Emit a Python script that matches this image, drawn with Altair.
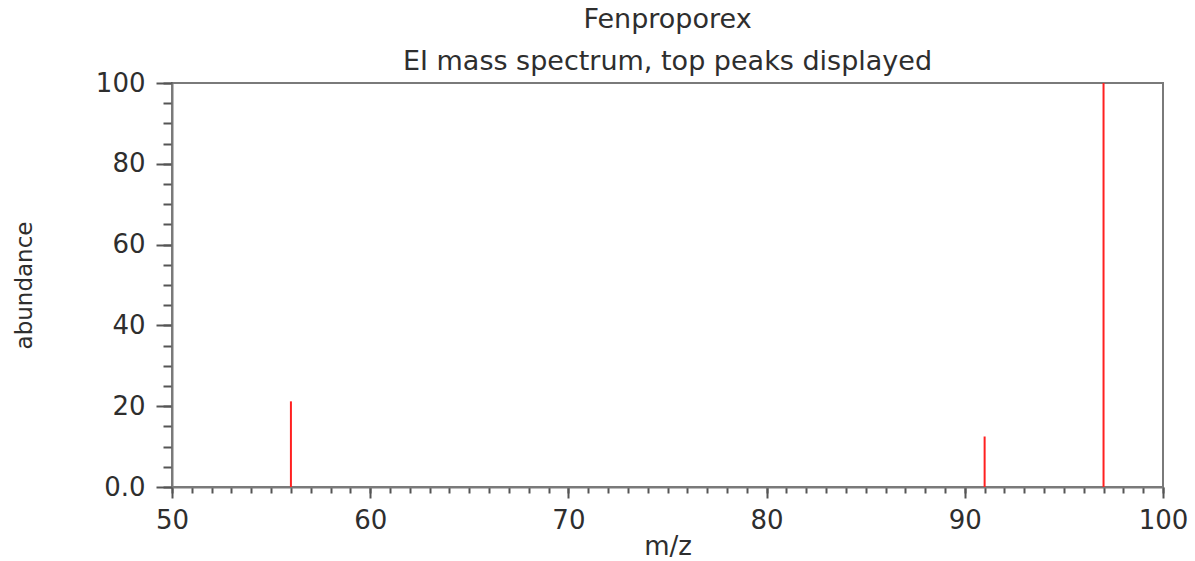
import altair as alt
import pandas as pd

# Data
mz = [56, 91, 97]
abundance = [21.2, 12.5, 100.0]

x_major = [50, 60, 70, 80, 90, 100]
x_minor = list(range(50, 101))
y_major = [0, 20, 40, 60, 80, 100]
y_minor = list(range(0, 101, 5))

df = pd.DataFrame({"mz": mz, "ab": abundance})

FONT = "DejaVu Sans"
AXIS_GRAY = "#7a7a7a"
TEXT = "#2e2e2e"

xscale = alt.Scale(domain=[50, 100], nice=False, zero=False)
yscale = alt.Scale(domain=[0, 100], nice=False)

minor = alt.Chart(df).mark_rule(opacity=0).encode(
    x=alt.X("mz:Q", scale=xscale,
            axis=alt.Axis(orient="bottom", values=x_minor, labels=False, domain=False,
                          grid=False, tickSize=6, tickWidth=2, tickColor="#555555",
                          title=None)),
    y=alt.Y("ab:Q", scale=yscale,
            axis=alt.Axis(orient="left", values=y_minor, labels=False, domain=False,
                          grid=False, tickSize=9, tickWidth=2, tickColor="#555555",
                          title=None)),
)

peaks = alt.Chart(df).mark_rule(color="#ff2020", strokeWidth=2).encode(
    x=alt.X("mz:Q", scale=xscale,
            axis=alt.Axis(orient="bottom", values=x_major, grid=False,
                          tickSize=11, tickWidth=2, tickColor="#555555",
                          domainColor=AXIS_GRAY, domainWidth=2,
                          labelFontSize=26, labelColor=TEXT, labelBaseline="alphabetic",
                          labelPadding=30, labelFlush=False,
                          title="m/z", titleFontSize=26, titleFontWeight="normal",
                          titleColor=TEXT, titleBaseline="alphabetic", titleY=67)),
    y=alt.Y("ab:Q", scale=yscale,
            axis=alt.Axis(orient="left", values=y_major, grid=False,
                          tickSize=16, tickWidth=2, tickColor="#555555",
                          domainColor=AXIS_GRAY, domainWidth=2,
                          labelFontSize=26, labelColor=TEXT, labelPadding=11,
                          labelFlush=False,
                          labelExpr="datum.value == 0 ? '0.0' : datum.label",
                          title="abundance", titleFontSize=23, titleFontWeight="normal",
                          titleColor=TEXT, titleBaseline="alphabetic",
                          titleX=-141, titleY=202)),
    y2=alt.datum(0),
)

chart = (
    alt.layer(minor, peaks)
    .resolve_axis(x="independent", y="independent")
    .properties(
        width=991,
        height=404,
        autosize=alt.AutoSizeParams(type="none"),
        padding={"left": 172, "top": 83, "right": 32, "bottom": 74},
        title=alt.Title(
            text="Fenproporex",
            subtitle="EI mass spectrum, top peaks displayed",
            fontSize=27, fontWeight="normal", color=TEXT, font=FONT,
            subtitleFontSize=27, subtitleColor=TEXT, subtitleFont=FONT,
            subtitlePadding=15, anchor="middle", frame="group", offset=-6,
        ),
    )
    .configure(font=FONT)
    .configure_view(stroke=AXIS_GRAY, strokeWidth=2)
)

chart.save("out.html", embed_options={"renderer": "svg", "actions": False})
